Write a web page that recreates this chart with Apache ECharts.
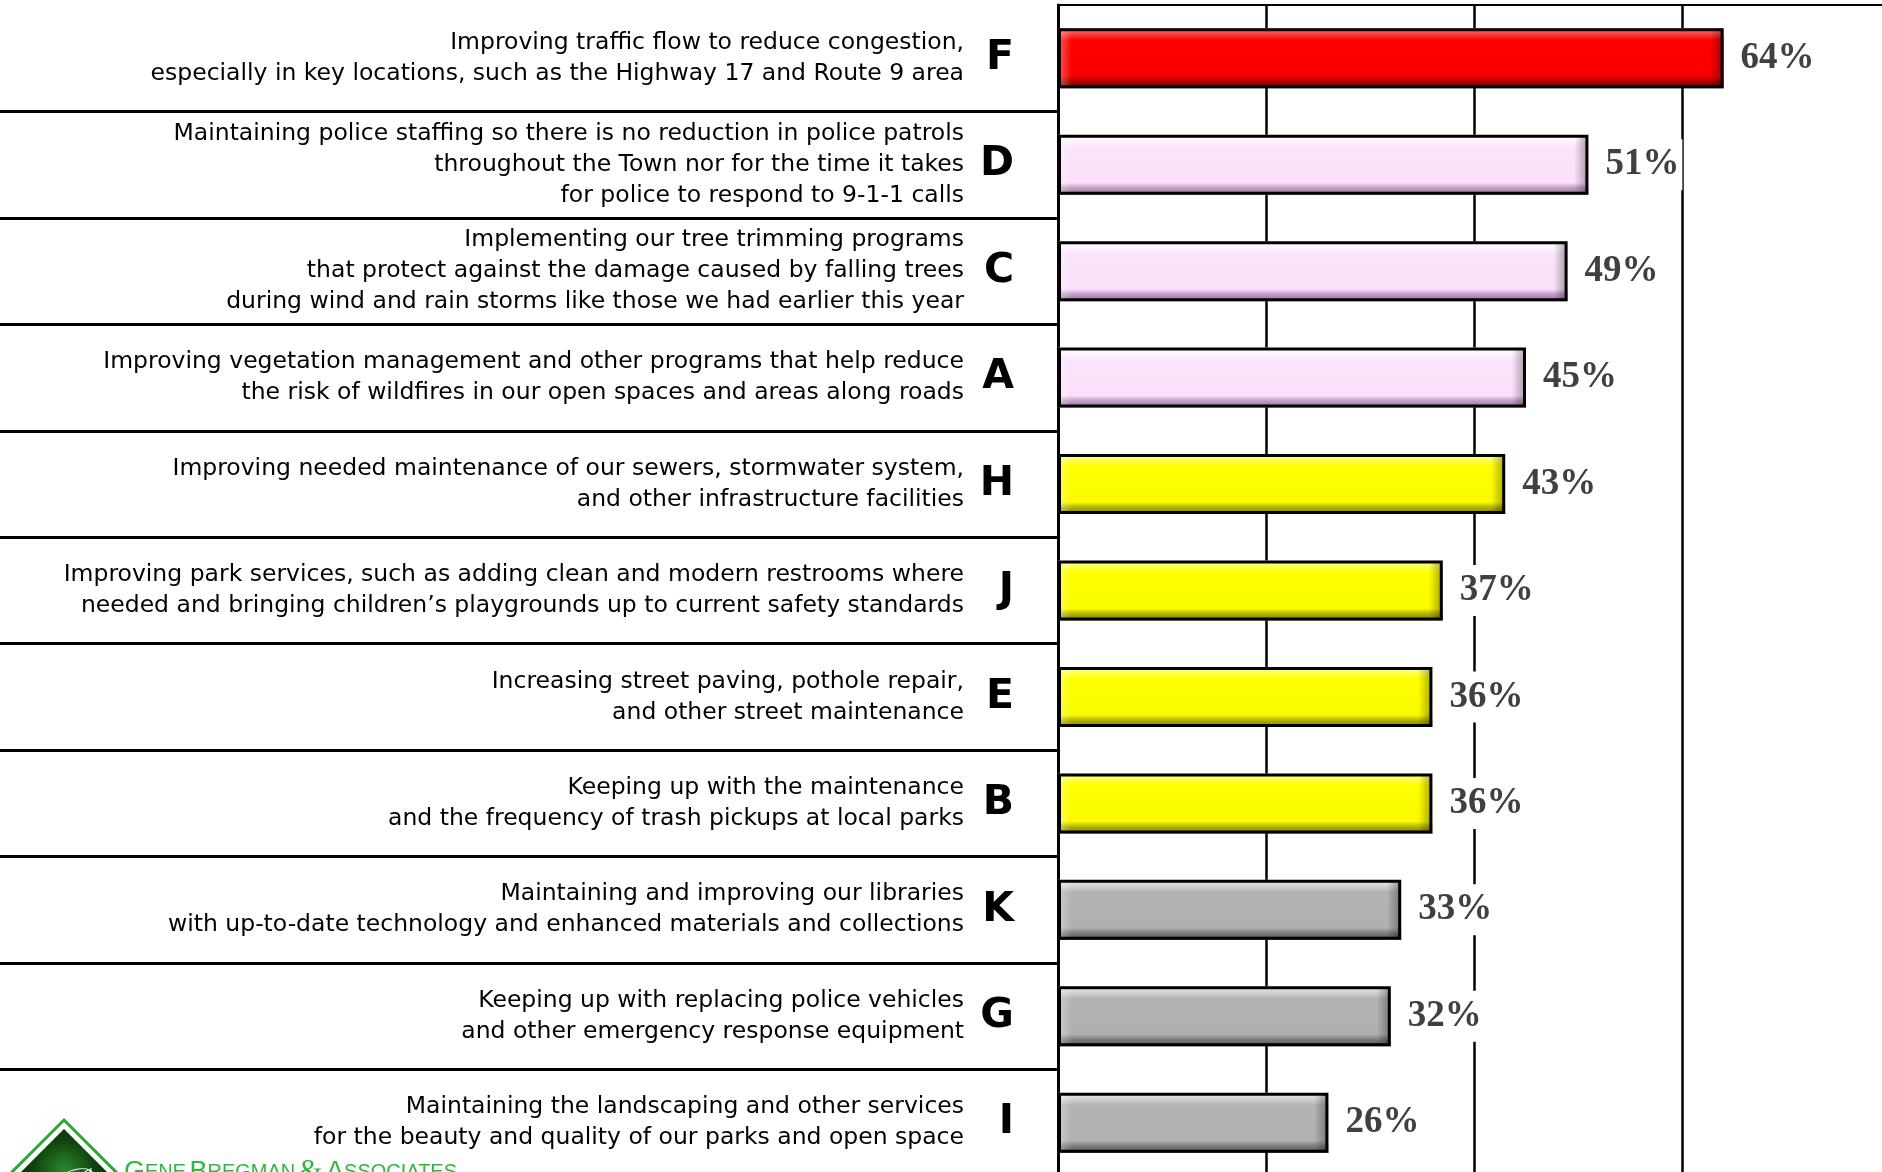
<!DOCTYPE html>
<html>
<head>
<meta charset="utf-8">
<style>
html,body{margin:0;padding:0;background:#fff;}
#chart{width:1882px;height:1172px;}
</style>
<script src="https://cdn.jsdelivr.net/npm/echarts@6/dist/echarts.min.js"></script>
</head>
<body>
<div id="chart"></div>
<script>
// ---- data ----
const categories = [
  "Improving traffic flow to reduce congestion,\nespecially in key locations, such as the Highway 17 and Route 9 area",
  "Maintaining police staffing so there is no reduction in police patrols\nthroughout the Town nor for the time it takes\nfor police to respond to 9-1-1 calls",
  "Implementing our tree trimming programs\nthat protect against the damage caused by falling trees\nduring wind and rain storms like those we had earlier this year",
  "Improving vegetation management and other programs that help reduce\nthe risk of wildfires in our open spaces and areas along roads",
  "Improving needed maintenance of our sewers, stormwater system,\nand other infrastructure facilities",
  "Improving park services, such as adding clean and modern restrooms where\nneeded and bringing children\u2019s playgrounds up to current safety standards",
  "Increasing street paving, pothole repair,\nand other street maintenance",
  "Keeping up with the maintenance\nand the frequency of trash pickups at local parks",
  "Maintaining and improving our libraries\nwith up-to-date technology and enhanced materials and collections",
  "Keeping up with replacing police vehicles\nand other emergency response equipment",
  "Maintaining the landscaping and other services\nfor the beauty and quality of our parks and open space"
];
const letters = ["F","D","C","A","H","J","E","B","K","G","I"];
const values = [64, 51, 49, 45, 43, 37, 36, 36, 33, 32, 26];
const tiers = ["top","high","high","high","mid","mid","mid","mid","low","low","low"];

// ---- styles ----
const tierStyle = {
  top:  ["#ff8080", "#ff3030", "#ff0000", "#f80000", "#b00000", "#700000"],
  high: ["#ffffff", "#fff2ff", "#fce4fc", "#fae0fa", "#c8a0c8", "#907090"],
  mid:  ["#ffffa0", "#ffff40", "#ffff00", "#fafa00", "#b8b800", "#7a7a00"],
  low:  ["#ececec", "#cfcfcf", "#b3b3b3", "#b0b0b0", "#808080", "#505050"]
};
function grad(t) {
  const c = tierStyle[t];
  return {
    type: 'linear', x: 0, y: 0, x2: 0, y2: 1,
    colorStops: [
      {offset: 0, color: c[0]},
      {offset: 0.12, color: c[1]},
      {offset: 0.2, color: c[2]},
      {offset: 0.8, color: c[3]},
      {offset: 0.88, color: c[4]},
      {offset: 1, color: c[5]}
    ]
  };
}
const PX_PER_UNIT = 10.4;
function endBevel(v) {
  const len = v * PX_PER_UNIT;
  const e = Math.min(0.45, 14 / len);
  return {
    type: 'linear', x: 0, y: 0, x2: 1, y2: 0,
    colorStops: [
      {offset: 0, color: 'rgba(255,255,255,0.35)'},
      {offset: e, color: 'rgba(255,255,255,0)'},
      {offset: 1 - e, color: 'rgba(0,0,0,0)'},
      {offset: 1, color: 'rgba(0,0,0,0.35)'}
    ]
  };
}

const chart = echarts.init(document.getElementById('chart'), null, {renderer: 'canvas'});
const option = {
  animation: false,
  backgroundColor: '#ffffff',
  grid: {left: 1058, width: 832, top: 5, height: 1171, containLabel: false, outerBoundsMode: 'none'},
  xAxis: {
    type: 'value', position: 'top', min: 0, max: 80, interval: 20,
    axisLine: {show: true, lineStyle: {color: '#000', width: 2}},
    axisTick: {show: false},
    axisLabel: {show: false},
    splitLine: {show: true, lineStyle: {color: '#000', width: 2.5}}
  },
  yAxis: [
    {
      type: 'category', data: categories, inverse: true,
      axisLine: {show: true, lineStyle: {color: '#000', width: 3}},
      axisTick: {
        show: true, length: 1060, inside: false,
        interval: function (i) { return i !== 0; },
        lineStyle: {color: '#000', width: 3}
      },
      axisLabel: {
        interval: 0, margin: 94, align: 'right',
        fontFamily: '"DejaVu Sans", Verdana, sans-serif',
        fontSize: 23.5, lineHeight: 31, color: '#000'
      }
    },
    {
      type: 'category', data: letters, inverse: true, position: 'left',
      axisLine: {show: false}, axisTick: {show: false},
      axisLabel: {
        interval: 0, margin: 44, align: 'right',
        fontFamily: '"DejaVu Sans", Verdana, sans-serif',
        fontWeight: 'bold', fontSize: 41, color: '#000'
      }
    }
  ],
  series: [
    {
      type: 'bar', yAxisIndex: 0, barWidth: 60, barGap: '-100%', z: 2,
      data: values.map((v, i) => ({value: v, itemStyle: {color: grad(tiers[i])}})),
      silent: true
    },
    {
      type: 'bar', yAxisIndex: 0, barWidth: 60, barGap: '-100%', z: 3,
      data: values.map((v) => ({
        value: v,
        itemStyle: {color: endBevel(v), borderColor: '#000', borderWidth: 3}
      })),
      label: {
        show: true, position: 'right', distance: 14,
        formatter: '{c}%',
        fontFamily: '"Liberation Serif", "Times New Roman", serif',
        fontWeight: 'bold', fontSize: 37, color: '#404040',
        backgroundColor: '#ffffff', padding: [8, 3, 6, 3]
      }
    }
  ],
  graphic: [
    {type: 'polygon', z: 10, shape: {points: [[64,1120],[124,1180],[64,1240],[4,1180]]},
     style: {fill: '#ffffff', stroke: '#2aa83a', lineWidth: 3}},
    {type: 'polygon', z: 11, shape: {points: [[64,1129],[115,1180],[64,1231],[13,1180]]},
     style: {fill: {type: 'radial', x: 0.5, y: 0.4, r: 0.6,
       colorStops: [{offset: 0, color: '#2a8a2a'}, {offset: 0.5, color: '#0f420f'}, {offset: 1, color: '#062006'}]}}},
    {type: 'text', z: 12, style: {text: '\u212C', x: 66, y: 1190, align: 'center', verticalAlign: 'middle',
       font: 'italic 48px "Liberation Serif", serif', fill: '#e8f4e8'}},
    {type: 'text', z: 12, style: {
      text: '{b|G}{s|ENE} {b|B}{s|REGMAN} {a|&} {b|A}{s|SSOCIATES}',
      x: 124, y: 1188, verticalAlign: 'bottom',
      rich: {
        b: {fontFamily: '"Liberation Sans", sans-serif', fontSize: 27, fill: '#2db83d'},
        s: {fontFamily: '"Liberation Sans", sans-serif', fontSize: 20, fill: '#2db83d'},
        a: {fontFamily: '"Liberation Serif", serif', fontSize: 31, fill: '#2db83d'}
      }
    }}
  ]
};
chart.setOption(option);
</script>
</body>
</html>
